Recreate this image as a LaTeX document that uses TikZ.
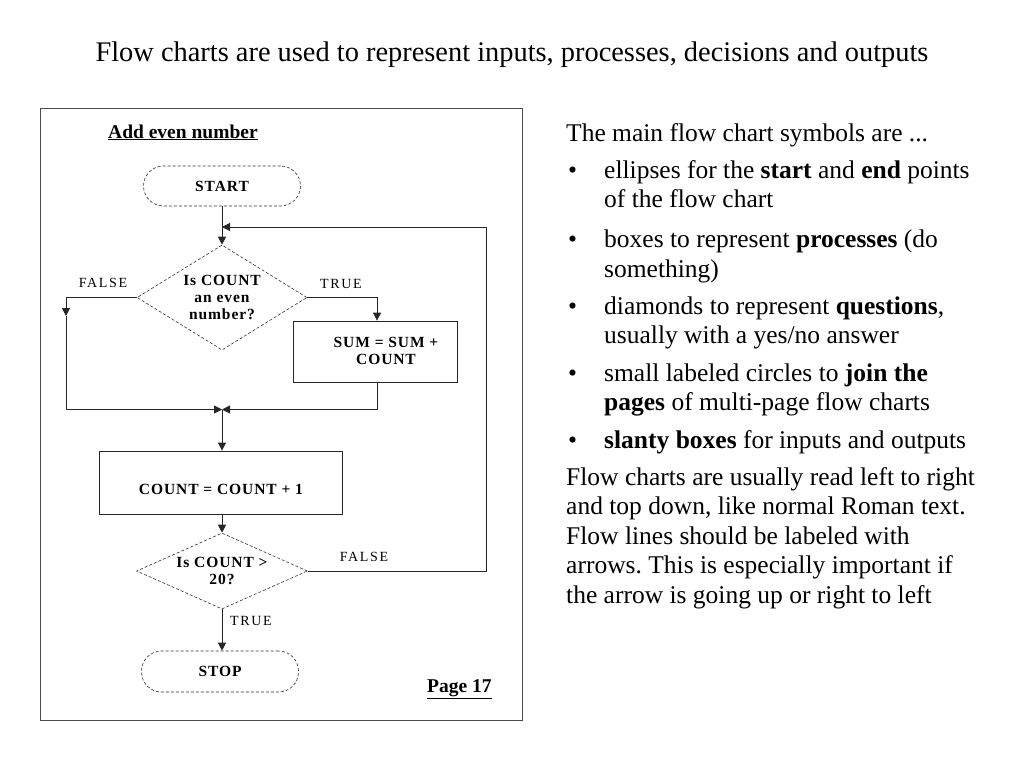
\documentclass[tikz,border=0pt]{standalone}
\usepackage{fontspec}
\setmainfont{Liberation Serif}
\usetikzlibrary{shapes.geometric,arrows.meta}
\frenchspacing
\tikzset{
  fcb/.style={font=\fontsize{15.5}{17}\selectfont\bfseries\addfontfeature{LetterSpace=6}},
  term/.style={draw=black!80, densely dashed, line width=0.6pt, rounded corners=20pt, inner sep=0pt, fcb},
  proc/.style={draw=black!85, line width=0.8pt, inner sep=0pt, fcb},
  dec/.style={diamond, draw=black!80, densely dashed, line width=0.6pt, inner sep=0pt, aspect=1.6, align=center, fcb},
  lbl/.style={font=\fontsize{14}{16}\selectfont\addfontfeature{LetterSpace=12}, inner sep=0pt},
  flow/.style={draw=black!85, line width=0.9pt},
  arr/.style={flow, -{Triangle[length=8pt,width=8pt]}},
  body/.style={font=\fontsize{25.5}{29.6}\selectfont, inner sep=0pt, anchor=base west, align=left},
  bul/.style={font=\fontsize{25.5}{29.6}\selectfont, inner sep=0pt, anchor=base west},
  hd/.style={font=\fontsize{19.5}{22}\selectfont\bfseries, anchor=base west, inner sep=0pt}
}
\begin{document}
\begin{tikzpicture}[x=1pt,y=-1pt]
\useasboundingbox[fill=white] (0,0) rectangle (1024,768);

% title
\node[font=\fontsize{28.4}{32}\selectfont, anchor=base, inner sep=0pt] (title) at (512,62)
  {Flow charts are used to represent inputs, processes, decisions and outputs};

% frame
\node[draw=black!70, line width=0.8pt, minimum width=482pt, minimum height=612pt, inner sep=0pt] (frame) at (281,414) {};

% heading and page
\node[hd] (head) at (108,138) {\underline{Add even number}};
\node[hd] (page) at (427,692) {\underline{Page 17}};

% shapes
\node[term, minimum width=157pt, minimum height=40pt] (start) at (222,186) {START};
\node[dec, minimum width=170pt, minimum height=105pt] (d1) at (222,297.5) {Is COUNT\\an even\\number?};
\node[proc, minimum width=164pt, minimum height=61pt] (sum) at (375,351.5) {};
\node[fcb, align=center, inner sep=0pt] (sumt) at (386,350.5) {SUM = SUM +\\COUNT};
\node[proc, minimum width=243pt, minimum height=63pt] (cnt) at (220.5,482.5) {};
\node[fcb, inner sep=0pt] (cntt) at (221,489) {COUNT = COUNT + 1};
\node[dec, aspect=2.25, minimum width=171pt, minimum height=76pt] (d2) at (222,571) {Is COUNT >\\20?};
\node[term, minimum width=157pt, minimum height=41pt] (stop) at (220,671.5) {STOP};

% labels
\node[lbl] (lf1) at (103,283) {FALSE};
\node[lbl] (lt1) at (341,284) {TRUE};
\node[lbl] (lf2) at (364,557) {FALSE};
\node[lbl] (lt2) at (251,621) {TRUE};

% coordinates
\coordinate (fl) at (66,297.5);
\coordinate (fa) at (66,316);
\coordinate (fb) at (66,409.5);
\coordinate (m) at (222,409.5);
\coordinate (tr) at (377,297.5);
\coordinate (sb) at (377,409.5);
\coordinate (lr) at (486,571);
\coordinate (lt) at (486,227);
\coordinate (la) at (222,227);

% connectors
\draw[arr] (start.south) -- (d1.north);
\draw[arr] (d1.west) -- (fl) -- (fa);
\draw[arr] (fa) -- (fb) -- (m);
\draw[arr] (d1.east) -- (tr) -- (tr |- sum.north);
\draw[arr] (sb |- sum.south) -- (sb) -- (m);
\draw[arr] (m) -- (m |- cnt.north);
\draw[arr] (m |- cnt.south) -- (d2.north);
\draw[arr] (d2.east) -- (lr) -- (lt) -- (la);
\draw[arr] (d2.south) -- (d2.south |- stop.north);

% right text (base anchor of a multi-line node is its last line)
\node[body] (p0) at (566,141) {The main flow chart symbols are ...};
\node[bul] (b1) at (568,178) {\textbullet};
\node[body] (t1) at (604,207.6) {ellipses for the \textbf{start} and \textbf{end} points\\of the flow chart};
\node[bul] (b2) at (568,247.5) {\textbullet};
\node[body] (t2) at (604,277.1) {boxes to represent \textbf{processes} (do\\something)};
\node[bul] (b3) at (568,314) {\textbullet};
\node[body] (t3) at (604,343.6) {diamonds to represent \textbf{questions},\\usually with a yes/no answer};
\node[bul] (b4) at (568,381) {\textbullet};
\node[body] (t4) at (604,410.6) {small labeled circles to \textbf{join the}\\\textbf{pages} of multi-page flow charts};
\node[bul] (b5) at (568,448) {\textbullet};
\node[body] (t5) at (604,448) {\textbf{slanty boxes} for inputs and outputs};
\node[body] (p6) at (566,603.4) {Flow charts are usually read left to right\\and top down, like normal Roman text.\\Flow lines should be labeled with\\arrows. This is especially important if\\the arrow is going up or right to left};
\end{tikzpicture}
\end{document}
